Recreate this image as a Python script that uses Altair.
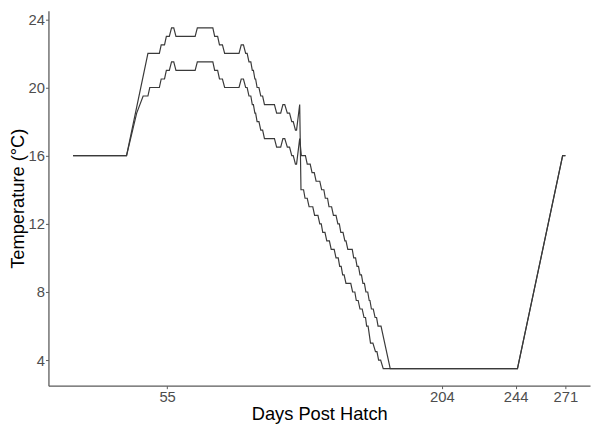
import altair as alt
import pandas as pd

# Series A: upper profile until the spike, then the lower (left) descent
days_a = [4, 33, 44.6, 50.8, 51.8, 53.6, 54.6, 56.2, 57.4, 58.6, 59.8, 70.2, 71.4, 79.8,
          80.8, 82.4, 83.4, 85.0, 86.2, 94.0, 95.2, 96.4, 97.6, 98.4, 99.4, 100.4, 101.2,
          101.8, 102.6, 103.0, 103.8, 104.8, 105.8, 106.8, 107.8, 113.2, 114.4, 116.6,
          117.8, 118.8, 120.2, 121.4, 122.6, 123.4, 124.6, 125.2, 126.9,
          127.6, 129.0, 129.8, 131.0, 132.0, 134.0, 135.0, 136.8, 137.8, 138.6, 139.4,
          140.6, 141.6, 143.0, 144.0, 145.6, 146.6, 147.8, 148.6, 149.4, 150.2, 151.0,
          152.0, 154.6, 155.6, 156.8, 157.6, 158.6, 159.6, 160.8, 161.8, 162.6, 163.2,
          164.0, 165.3, 166.6, 168.0, 168.8, 169.7, 170.8, 172.2, 245, 269.5, 271]
temps_a = [16, 16, 22, 22, 22.5, 22.5, 23, 23, 23.5, 23.5, 23, 23, 23.5, 23.5,
           23, 23, 22.5, 22.5, 22, 22, 22.5, 22.5, 22, 22, 21.5, 21.5, 21,
           21, 20.5, 20.5, 20, 20, 19.5, 19.5, 19, 19, 18.5, 18.5,
           19, 19, 18.5, 18.5, 18, 18, 17.5, 17.5, 19,
           14, 14, 13.5, 13.5, 13, 13, 12.5, 12.5, 12, 12, 11.5,
           11.5, 11, 11, 10.5, 10.5, 10, 10, 9.5, 9.5, 9, 9,
           8.5, 8.5, 8, 8, 7.5, 7.5, 7, 7, 6.5, 6.5, 6,
           6, 5, 5, 4.5, 4.5, 4, 4, 3.5, 3.5, 16, 16]

# Series B: lower profile until the spike, then the upper (right) descent
days_b = [4, 33, 38.5, 42.0, 44.6, 45.6, 50.8, 51.8, 53.6, 54.6, 56.2, 57.4, 58.6, 59.8,
          70.2, 71.4, 79.8, 80.8, 82.4, 83.4, 85.0, 86.2, 94.0, 95.2, 96.4, 97.6, 98.4,
          99.4, 100.4, 101.2, 101.8, 102.6, 103.0, 103.8, 104.8, 105.8, 106.8, 107.8,
          113.2, 114.4, 116.6, 117.8, 118.8, 120.2, 121.4, 122.6, 123.4, 124.6, 125.2,
          126.9,
          127.8, 130.0, 131.0, 132.6, 133.6, 134.8, 135.8, 137.8, 138.8, 140.0, 140.8,
          142.0, 142.8, 144.2, 145.2, 146.6, 147.6, 148.4, 149.2, 150.4, 151.4, 152.0,
          153.0, 155.4, 156.2, 157.2, 158.0, 158.8, 159.6, 160.4, 161.2, 162.0, 162.8,
          163.8, 164.6, 165.0, 165.8, 166.8, 167.8, 168.6, 169.4, 171.0, 176.0,
          245, 269.5, 271]
temps_b = [16, 16, 18.5, 19.5, 19.5, 20, 20, 20.5, 20.5, 21, 21, 21.5, 21.5, 21,
           21, 21.5, 21.5, 21, 21, 20.5, 20.5, 20, 20, 20.5, 20.5, 20, 20,
           19.5, 19.5, 19, 19, 18.5, 18.5, 18, 18, 17.5, 17.5, 17,
           17, 16.5, 16.5, 17, 17, 16.5, 16.5, 16, 16, 15.5, 15.5,
           17,
           16, 16, 15.5, 15.5, 15, 15, 14.5, 14.5, 14, 14, 13.5,
           13.5, 13, 13, 12.5, 12.5, 12, 12, 11.5, 11.5, 11, 11,
           10.5, 10.5, 10, 10, 9.5, 9.5, 9, 9, 8.5, 8.5, 8,
           8, 7.5, 7.5, 7, 7, 6.5, 6.5, 6, 6, 3.5,
           3.5, 16, 16]

x_ticks = [55, 204, 244, 271]
y_ticks = [4, 8, 12, 16, 20, 24]

rows = []
for i, (d, t) in enumerate(zip(days_a, temps_a)):
    rows.append({"series": "A", "day": d, "temp": t, "idx": i})
for i, (d, t) in enumerate(zip(days_b, temps_b)):
    rows.append({"series": "B", "day": d, "temp": t, "idx": i})
df = pd.DataFrame(rows)

FONT = "Liberation Sans"

chart = alt.Chart(df).mark_line(color="#3a3a3a", strokeWidth=1.2).encode(
    x=alt.X("day:Q",
            scale=alt.Scale(domain=[-9.35, 284.35], nice=False, zero=False),
            axis=alt.Axis(values=x_ticks, title="Days Post Hatch", grid=False,
                          tickSize=3, labelPadding=1, titlePadding=0,
                          labelFontSize=15, labelColor="#4d4d4d", labelFont=FONT,
                          titleFontSize=18.5, titleFontWeight="normal", titleColor="#000000",
                          titleFont=FONT, domainColor="#5a5a5a", domainWidth=1.3,
                          tickColor="#5a5a5a", tickWidth=1)),
    y=alt.Y("temp:Q",
            scale=alt.Scale(domain=[2.5, 24.5], nice=False, zero=False),
            axis=alt.Axis(values=y_ticks, title="Temperature (°C)", grid=False,
                          tickSize=3, labelPadding=1, titlePadding=1,
                          labelFontSize=15, labelColor="#4d4d4d", labelFont=FONT,
                          titleFontSize=18.5, titleFontWeight="normal", titleColor="#000000",
                          titleFont=FONT, domainColor="#5a5a5a", domainWidth=1.3,
                          tickColor="#5a5a5a", tickWidth=1)),
    detail="series:N",
    order="idx:Q",
).properties(
    width=592, height=418,
    autosize=alt.AutoSizeParams(type="fit", contains="padding"),
    padding={"left": 0, "top": 0, "right": 2, "bottom": 0},
).configure_view(stroke=None)

chart.save("out.html", embed_options={"renderer": "svg", "actions": False})
